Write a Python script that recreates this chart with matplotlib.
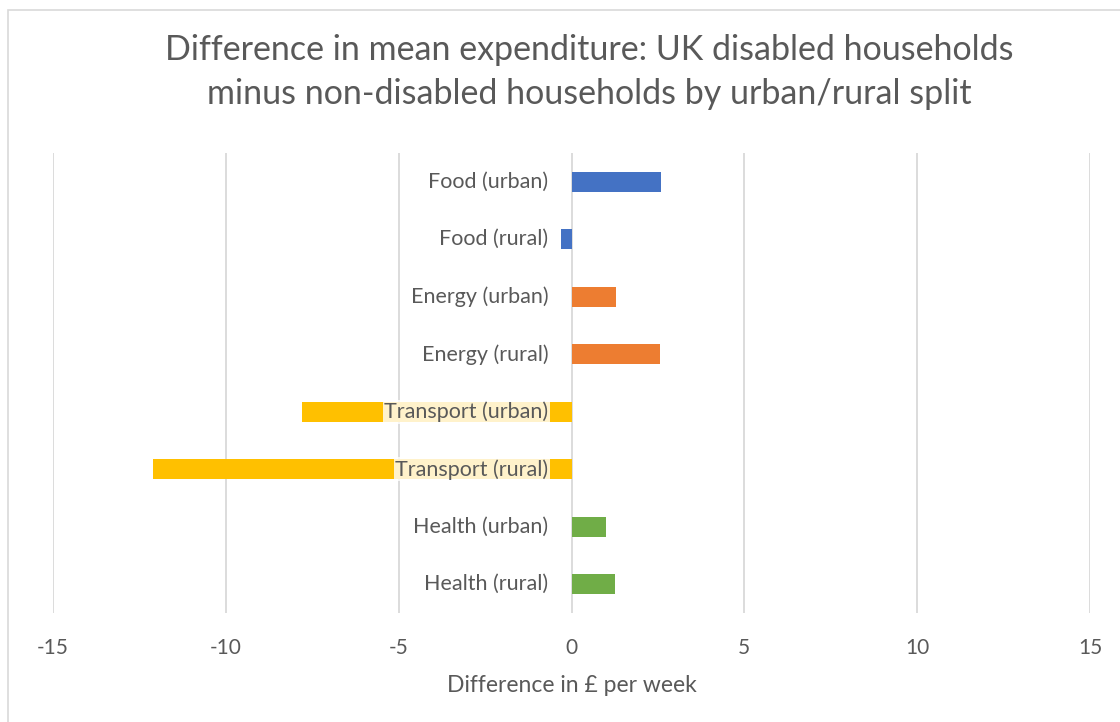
import matplotlib.pyplot as plt
from matplotlib.patches import Rectangle

plt.rcParams['font.family'] = ['Lato', 'DejaVu Sans']

categories = ['Food (urban)', 'Food (rural)', 'Energy (urban)', 'Energy (rural)',
              'Transport (urban)', 'Transport (rural)', 'Health (urban)', 'Health (rural)']
values = [2.6, -0.3, 1.3, 2.55, -7.8, -12.1, 1.0, 1.25]
colors = ['#4472C4', '#4472C4', '#ED7D31', '#ED7D31',
          '#FFC000', '#FFC000', '#70AD47', '#70AD47']
ticks = [-15, -10, -5, 0, 5, 10, 15]

text_col = '#595959'

fig = plt.figure(figsize=(11.2, 7.22), dpi=100)
ax = fig.add_axes([53 / 1120, 1 - 613 / 722, 1037 / 1120, 460 / 722])

pos = list(range(len(categories)))
ax.barh(pos, values, height=0.35, color=colors, zorder=2)
ax.set_ylim(len(categories) - 0.5, -0.5)
ax.set_xlim(-15, 15)

ax.set_xticks(ticks)
ax.set_xticklabels([str(t) for t in ticks])
ax.set_yticks([])
ax.grid(axis='x', color='#D9D9D9', linewidth=1.3, zorder=0)
ax.tick_params(axis='x', length=0, pad=18, labelsize=15, colors=text_col)
for s in ax.spines.values():
    s.set_visible(False)

for p, c in zip(pos, categories):
    ax.annotate(c, xy=(0, p), xytext=(-23, 0), textcoords='offset pixels',
                ha='right', va='center', fontsize=15.5, color=text_col, zorder=3,
                bbox=dict(boxstyle='square,pad=0.08', facecolor='white',
                          edgecolor='none', alpha=0.8))

ax.set_xlabel('Difference in £ per week', fontsize=16.5, color=text_col, labelpad=12)

fig.text(589 / 1120, 1 - 72 / 722,
         'Difference in mean expenditure: UK disabled households\n'
         'minus non-disabled households by urban/rural split',
         ha='center', va='center', fontsize=24.5, color=text_col, linespacing=1.5)

fig.patches.append(Rectangle((8 / 1120, -0.05), 1.1, 1 - 10 / 722 + 0.05,
                             transform=fig.transFigure, fill=False,
                             edgecolor='#D9D9D9', linewidth=1.2))

fig.savefig('out.png', dpi=100)
